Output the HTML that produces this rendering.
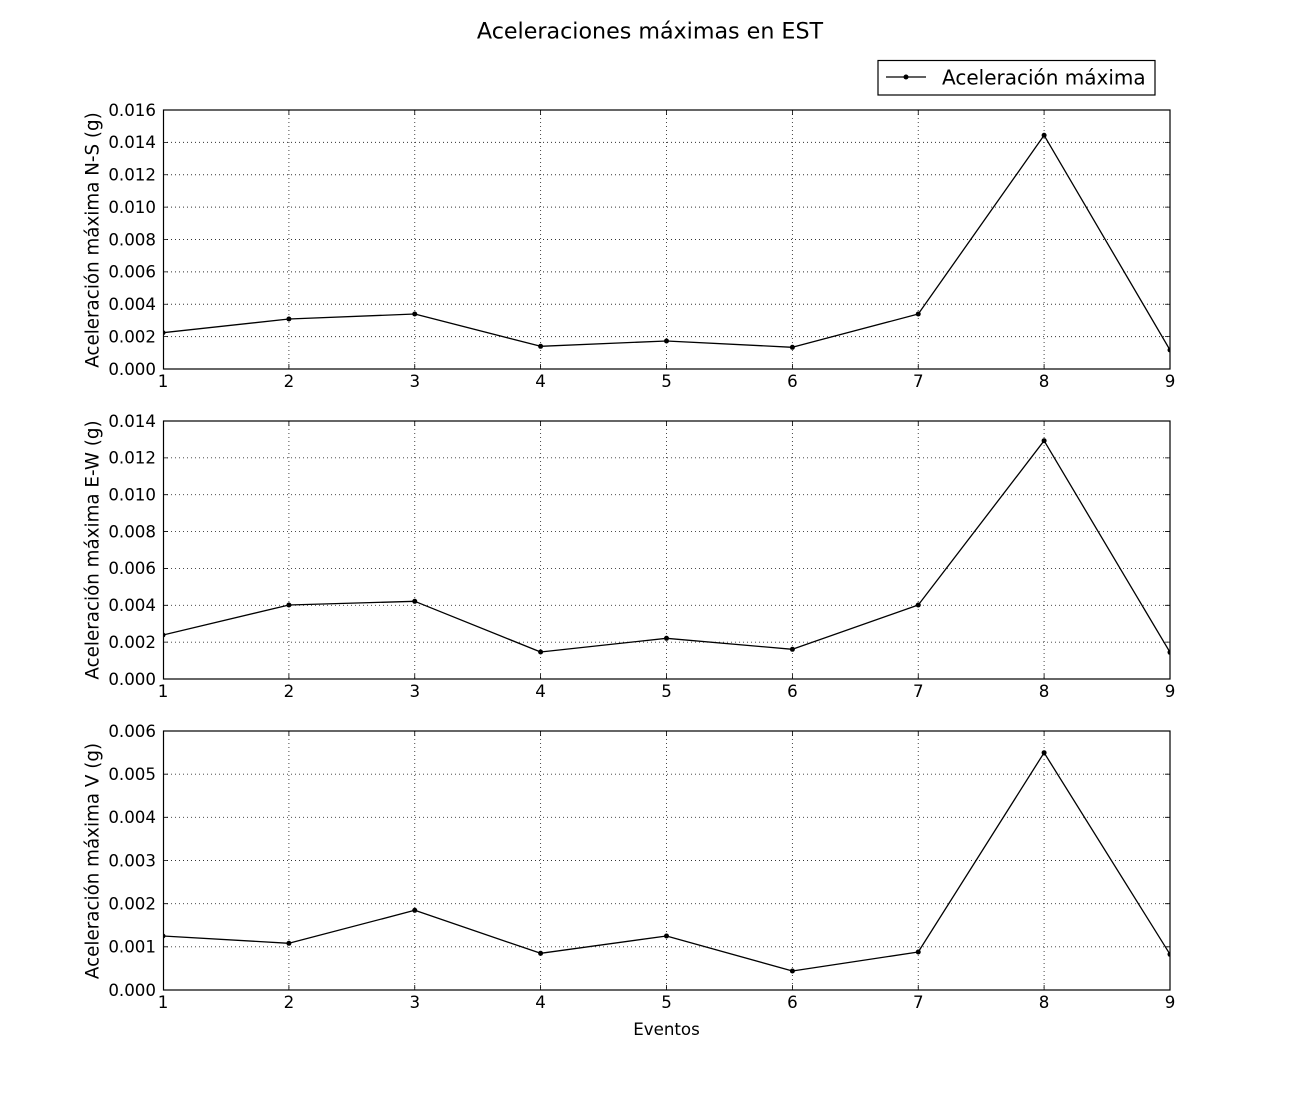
<!DOCTYPE html>
<html><head><meta charset="utf-8"><style>
html,body{margin:0;padding:0;background:#fff;}
svg{display:block;}
text{font-family:"DejaVu Sans","Liberation Sans",sans-serif;fill:#000;}
.tk{font-size:16.67px;}
.yl{font-size:18.3px;}
.yt{text-anchor:end;}
.xt{text-anchor:middle;}
.g{stroke:#333;stroke-width:0.9;stroke-dasharray:1 3;fill:none;}
.t{stroke:#000;stroke-width:0.8;fill:none;}
.s{stroke:#000;stroke-width:1.2;fill:none;}
.d{stroke:#000;stroke-width:1.3;fill:none;stroke-linejoin:round;}
</style></head><body>
<svg width="1300" height="1100" viewBox="0 0 1300 1100" xmlns="http://www.w3.org/2000/svg">
<defs>
<clipPath id="c1"><rect x="163" y="110" width="1007" height="259"/></clipPath>
<clipPath id="c2"><rect x="163" y="421" width="1007" height="258"/></clipPath>
<clipPath id="c3"><rect x="163" y="731" width="1007" height="259"/></clipPath>
</defs>
<rect width="1300" height="1100" fill="#fff"/>

<text x="650" y="38.5" font-size="22.2" text-anchor="middle">Aceleraciones máximas en EST</text>

<!-- legend -->
<rect x="878" y="60.5" width="277" height="34.5" fill="#fff" stroke="#000" stroke-width="1.2"/>
<line x1="886" y1="77" x2="926" y2="77" stroke="#000" stroke-width="1.3"/>
<circle cx="906" cy="77" r="2.5" fill="#000"/>
<text x="942" y="84.3" font-size="20">Aceleración máxima</text>

<!-- ============ PANEL 1 ============ -->
<g>
<path class="g" d="M288.9 110V369M414.75 110V369M540.6 110V369M666.5 110V369M792.4 110V369M918.25 110V369M1044.1 110V369"/>
<path class="g" d="M163 336.625H1170M163 304.25H1170M163 271.875H1170M163 239.5H1170M163 207.125H1170M163 174.75H1170M163 142.375H1170"/>
<path class="t" d="M163 336.625h5M163 304.25h5M163 271.875h5M163 239.5h5M163 207.125h5M163 174.75h5M163 142.375h5
M1170 336.625h-5M1170 304.25h-5M1170 271.875h-5M1170 239.5h-5M1170 207.125h-5M1170 174.75h-5M1170 142.375h-5
M288.9 369v-5M414.75 369v-5M540.6 369v-5M666.5 369v-5M792.4 369v-5M918.25 369v-5M1044.1 369v-5
M288.9 110v5M414.75 110v5M540.6 110v5M666.5 110v5M792.4 110v5M918.25 110v5M1044.1 110v5"/>
<g clip-path="url(#c1)">
<polyline class="d" points="163,332.7 288.9,319 414.75,314 540.6,346.3 666.5,341 792.4,347.3 918.25,314 1044.1,135.3 1170,350"/>
<g fill="#000">
<circle cx="163" cy="332.7" r="2.5"/><circle cx="288.9" cy="319" r="2.5"/><circle cx="414.75" cy="314" r="2.5"/><circle cx="540.6" cy="346.3" r="2.5"/><circle cx="666.5" cy="341" r="2.5"/><circle cx="792.4" cy="347.3" r="2.5"/><circle cx="918.25" cy="314" r="2.5"/><circle cx="1044.1" cy="135.3" r="2.5"/><circle cx="1170" cy="350" r="2.5"/>
</g>
</g>
<rect class="s" x="163.5" y="110" width="1006.5" height="259"/>
<g class="tk yt">
<text x="156" y="374.8">0.000</text>
<text x="156" y="342.4">0.002</text>
<text x="156" y="310.1">0.004</text>
<text x="156" y="277.7">0.006</text>
<text x="156" y="245.3">0.008</text>
<text x="156" y="212.9">0.010</text>
<text x="156" y="180.6">0.012</text>
<text x="156" y="148.2">0.014</text>
<text x="156" y="115.8">0.016</text>
</g>
<g class="tk xt">
<text x="163" y="387">1</text><text x="288.9" y="387">2</text><text x="414.75" y="387">3</text><text x="540.6" y="387">4</text><text x="666.5" y="387">5</text><text x="792.4" y="387">6</text><text x="918.25" y="387">7</text><text x="1044.1" y="387">8</text><text x="1170" y="387">9</text>
</g>
<text class="yl" transform="translate(98.5,240) rotate(-90)" text-anchor="middle">Aceleración máxima N-S (g)</text>
</g>

<!-- ============ PANEL 2 ============ -->
<g>
<path class="g" d="M288.9 421V679M414.75 421V679M540.6 421V679M666.5 421V679M792.4 421V679M918.25 421V679M1044.1 421V679"/>
<path class="g" d="M163 642.14H1170M163 605.29H1170M163 568.43H1170M163 531.57H1170M163 494.71H1170M163 457.86H1170"/>
<path class="t" d="M163 642.14h5M163 605.29h5M163 568.43h5M163 531.57h5M163 494.71h5M163 457.86h5
M1170 642.14h-5M1170 605.29h-5M1170 568.43h-5M1170 531.57h-5M1170 494.71h-5M1170 457.86h-5
M288.9 679v-5M414.75 679v-5M540.6 679v-5M666.5 679v-5M792.4 679v-5M918.25 679v-5M1044.1 679v-5
M288.9 421v5M414.75 421v5M540.6 421v5M666.5 421v5M792.4 421v5M918.25 421v5M1044.1 421v5"/>
<g clip-path="url(#c2)">
<polyline class="d" points="163,635 288.9,605 414.75,601.3 540.6,652 666.5,638.3 792.4,649.3 918.25,605 1044.1,440.7 1170,652.3"/>
<g fill="#000">
<circle cx="163" cy="635" r="2.5"/><circle cx="288.9" cy="605" r="2.5"/><circle cx="414.75" cy="601.3" r="2.5"/><circle cx="540.6" cy="652" r="2.5"/><circle cx="666.5" cy="638.3" r="2.5"/><circle cx="792.4" cy="649.3" r="2.5"/><circle cx="918.25" cy="605" r="2.5"/><circle cx="1044.1" cy="440.7" r="2.5"/><circle cx="1170" cy="652.3" r="2.5"/>
</g>
</g>
<rect class="s" x="163.5" y="421" width="1006.5" height="258"/>
<g class="tk yt">
<text x="156" y="684.8">0.000</text>
<text x="156" y="647.9">0.002</text>
<text x="156" y="611.1">0.004</text>
<text x="156" y="574.2">0.006</text>
<text x="156" y="537.4">0.008</text>
<text x="156" y="500.5">0.010</text>
<text x="156" y="463.7">0.012</text>
<text x="156" y="426.8">0.014</text>
</g>
<g class="tk xt">
<text x="163" y="697">1</text><text x="288.9" y="697">2</text><text x="414.75" y="697">3</text><text x="540.6" y="697">4</text><text x="666.5" y="697">5</text><text x="792.4" y="697">6</text><text x="918.25" y="697">7</text><text x="1044.1" y="697">8</text><text x="1170" y="697">9</text>
</g>
<text class="yl" transform="translate(98.5,550) rotate(-90)" text-anchor="middle">Aceleración máxima E-W (g)</text>
</g>

<!-- ============ PANEL 3 ============ -->
<g>
<path class="g" d="M288.9 731V990M414.75 731V990M540.6 731V990M666.5 731V990M792.4 731V990M918.25 731V990M1044.1 731V990"/>
<path class="g" d="M163 946.83H1170M163 903.67H1170M163 860.5H1170M163 817.33H1170M163 774.17H1170"/>
<path class="t" d="M163 946.83h5M163 903.67h5M163 860.5h5M163 817.33h5M163 774.17h5
M1170 946.83h-5M1170 903.67h-5M1170 860.5h-5M1170 817.33h-5M1170 774.17h-5
M288.9 990v-5M414.75 990v-5M540.6 990v-5M666.5 990v-5M792.4 990v-5M918.25 990v-5M1044.1 990v-5
M288.9 731v5M414.75 731v5M540.6 731v5M666.5 731v5M792.4 731v5M918.25 731v5M1044.1 731v5"/>
<g clip-path="url(#c3)">
<polyline class="d" points="163,936 288.9,943.3 414.75,910.3 540.6,953.3 666.5,936 792.4,971 918.25,952 1044.1,752.7 1170,954.3"/>
<g fill="#000">
<circle cx="163" cy="936" r="2.5"/><circle cx="288.9" cy="943.3" r="2.5"/><circle cx="414.75" cy="910.3" r="2.5"/><circle cx="540.6" cy="953.3" r="2.5"/><circle cx="666.5" cy="936" r="2.5"/><circle cx="792.4" cy="971" r="2.5"/><circle cx="918.25" cy="952" r="2.5"/><circle cx="1044.1" cy="752.7" r="2.5"/><circle cx="1170" cy="954.3" r="2.5"/>
</g>
</g>
<rect class="s" x="163.5" y="731" width="1006.5" height="259"/>
<g class="tk yt">
<text x="156" y="995.8">0.000</text>
<text x="156" y="952.6">0.001</text>
<text x="156" y="909.5">0.002</text>
<text x="156" y="866.3">0.003</text>
<text x="156" y="823.1">0.004</text>
<text x="156" y="780">0.005</text>
<text x="156" y="736.8">0.006</text>
</g>
<g class="tk xt">
<text x="163" y="1008">1</text><text x="288.9" y="1008">2</text><text x="414.75" y="1008">3</text><text x="540.6" y="1008">4</text><text x="666.5" y="1008">5</text><text x="792.4" y="1008">6</text><text x="918.25" y="1008">7</text><text x="1044.1" y="1008">8</text><text x="1170" y="1008">9</text>
</g>
<text class="yl" transform="translate(98.5,861) rotate(-90)" text-anchor="middle">Aceleración máxima V (g)</text>
<text class="tk" x="666.5" y="1035" text-anchor="middle">Eventos</text>
</g>
</svg>
</body></html>
